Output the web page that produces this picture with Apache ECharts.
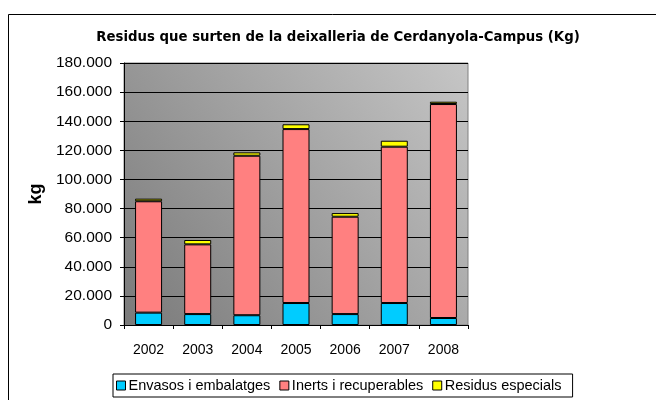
<!DOCTYPE html>
<html>
<head>
<meta charset="utf-8">
<script src="https://cdn.jsdelivr.net/npm/echarts@6/dist/echarts.min.js"></script>
<style>
  html, body { margin: 0; padding: 0; background: #fff; overflow: hidden; }
  #chart { width: 656px; height: 400px; }
</style>
</head>
<body>
<div id="chart"></div>
<script>
    // Dades llegides del gràfic (kg)
    const years = ["2002", "2003", "2004", "2005", "2006", "2007", "2008"];
    const envasos = [8500, 7500, 6700, 15100, 7500, 15100, 4800];
    const inerts = [76500, 47900, 109600, 119500, 66900, 107400, 147000];
    const especials = [1800, 3000, 2300, 3300, 2500, 4100, 1600];
    const seriesNames = ["Envasos i embalatges", "Inerts i recuperables", "Residus especials"];
    const seriesColors = ["#00ccff", "#ff8080", "#ffff00"];

    const font = "Liberation Sans, Arial, sans-serif";
    const myChart = echarts.init(document.getElementById("chart"), null, { renderer: "canvas" });

    // Format amb punt de milers: 180.000
    const fmt = v => String(v).replace(/\B(?=(\d{3})+(?!\d))/g, ".");

    const series = [envasos, inerts, especials].map((data, i) => ({
        name: seriesNames[i],
        type: "bar",
        stack: "total",
        barWidth: 27,
        data: data,
        itemStyle: { color: seriesColors[i], borderColor: "#000", borderWidth: 1 },
        emphasis: { disabled: true }
    }));

    const option = {
        animation: false,
        backgroundColor: "#fff",
        textStyle: { fontFamily: font },
        graphic: [{
            type: "rect",
            shape: { x: 8.5, y: 14.5, width: 700, height: 500 },
            style: { fill: "none", stroke: "#000", lineWidth: 1 },
            silent: true
        }],
        title: {
            text: "Residus que surten de la deixalleria de Cerdanyola-Campus (Kg)",
            left: 333,
            textAlign: "center",
            top: 26,
            textStyle: { fontFamily: "DejaVu Sans", fontSize: 13.3, fontWeight: "bold", color: "#000" }
        },
        legend: {
            data: seriesNames,
            left: 113,
            top: 374,
            padding: [4, 11, 4, 3],
            itemGap: 9,
            itemWidth: 9,
            itemHeight: 9,
            icon: "rect",
            borderColor: "#000",
            borderWidth: 1,
            itemStyle: { borderColor: "#000", borderWidth: 1 },
            textStyle: { fontFamily: font, fontSize: 14.5, color: "#000", padding: [0, 0, 0, -2] },
            selectedMode: false
        },
        grid: {
            left: 124,
            right: 188,
            top: 63,
            bottom: 75,
            show: true,
            borderColor: "#808080",
            borderWidth: 1,
            backgroundColor: new echarts.graphic.LinearGradient(0, 1, 1, 0, [
                { offset: 0, color: "#7a7a7a" },
                { offset: 1, color: "#c6c6c6" }
            ])
        },
        xAxis: {
            type: "category",
            data: years,
            axisLine: { lineStyle: { color: "#000", width: 1 } },
            axisTick: { show: true, length: 4, lineStyle: { color: "#000" } },
            axisLabel: { fontFamily: font, fontSize: 14, color: "#000", margin: 18 }
        },
        yAxis: {
            type: "value",
            min: 0,
            max: 180000,
            interval: 20000,
            name: "kg",
            nameLocation: "middle",
            nameGap: 76,
            nameRotate: 90,
            nameTextStyle: { fontFamily: font, fontSize: 18, fontWeight: "bold", color: "#000" },
            axisLine: { show: true, lineStyle: { color: "#000", width: 1 } },
            axisTick: { show: true, length: 4, lineStyle: { color: "#000" } },
            axisLabel: { fontFamily: font, fontSize: 15.5, color: "#000", margin: 12, formatter: fmt },
            splitLine: { show: true, lineStyle: { color: "#000", width: 1 } }
        },
        series: series
    };
    myChart.setOption(option);
</script>
</body>
</html>
